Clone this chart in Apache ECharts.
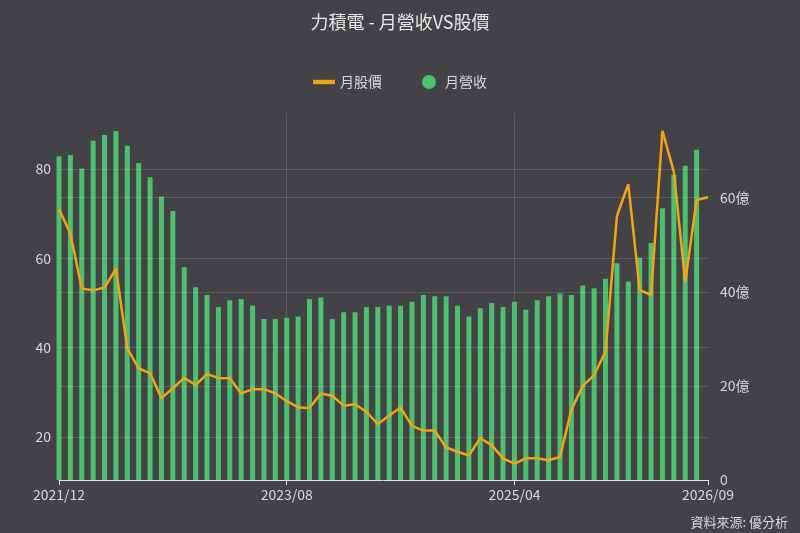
<!DOCTYPE html><html><head><meta charset="utf-8"><script src="https://cdn.jsdelivr.net/npm/echarts@6/dist/echarts.min.js"></script>
<style>html,body{margin:0;background:#434247}#c{width:800px;height:533px}</style></head><body><div id="c"></div><script>
const months=[];for(let y=2021,m=12;months.length<58;){months.push(y+'/'+String(m).padStart(2,'0'));m++;if(m>12){m=1;y++;}}
const revenue=[82.8,83.1,80.1,86.3,87.6,88.5,85.2,81.3,78.1,73.8,70.6,58.0,53.5,51.8,49.1,50.6,50.9,49.4,46.4,46.4,46.7,47.0,50.9,51.2,46.4,47.9,47.9,49.1,49.1,49.4,49.4,50.3,51.8,51.5,51.5,49.4,47.0,48.8,50.0,49.1,50.3,48.5,50.6,51.5,52.1,51.8,53.9,53.3,55.4,58.9,54.8,60.1,63.4,71.2,78.7,80.7,84.3,null];
const price=[57.6,52.4,40.7,40.3,40.9,44.9,28.0,23.7,22.7,17.4,19.5,21.7,20.2,22.5,21.7,21.6,18.4,19.3,19.3,18.4,16.8,15.4,15.3,18.4,17.9,15.8,16.1,14.5,11.9,13.7,15.4,11.5,10.5,10.5,6.9,6.0,5.2,8.9,7.4,4.6,3.5,4.6,4.6,4.2,4.9,14.9,20.0,22.3,27.3,56.1,62.9,40.4,39.3,74.2,65.5,42.1,59.5,60.1];
const leftTicks=[20,40,60,80];
const rightTicks=[0,20,40,60];
const txt='#d8d8d8',gl='rgba(255,255,255,0.13)',ff='"Noto Sans CJK TC","Noto Sans",sans-serif';
const ch=echarts.init(document.getElementById('c'));
ch.setOption({backgroundColor:'#434247',textStyle:{fontFamily:ff},
title:{text:'力積電 - 月營收VS股價',left:'center',top:8,textStyle:{color:'#e6e6e6',fontSize:18,fontWeight:'normal',fontFamily:ff}},
legend:{top:70,left:'center',itemGap:40,textStyle:{color:txt,fontSize:14},data:[{name:'月股價',icon:'path://M0,0h10v2H0z'},{name:'月營收',icon:'circle'}],itemWidth:22,itemHeight:14},
graphic:[{type:'text',right:12,bottom:4,style:{text:'資料來源: 優分析',fill:txt,font:'13px '+ff}}],
grid:{left:59,right:92,top:113,bottom:53},
xAxis:{type:'category',data:months,boundaryGap:false,axisLine:{lineStyle:{color:'#e0e0e0'}},
 axisTick:{interval:(i)=>i%20===0||i===57,lineStyle:{color:'#e0e0e0'}},
 axisLabel:{interval:(i)=>i%20===0||i===57,color:txt,fontSize:14,margin:8},splitLine:{show:true,interval:(i)=>i%20===0&&i>0,lineStyle:{color:gl}}},
yAxis:[{type:'value',min:10.4,max:92.5,axisLine:{show:false},axisTick:{show:false},splitLine:{show:false},
 axisLabel:{customValues:leftTicks,color:txt,fontSize:14}},
 {type:'value',min:0,max:78,position:'right',axisLine:{show:false},axisTick:{show:false},splitLine:{show:false},
 axisLabel:{customValues:rightTicks,color:txt,fontSize:14,formatter:v=>v===0?'0':v+'億',margin:12}}],
series:[{name:'月營收',type:'bar',yAxisIndex:0,data:revenue,barWidth:5,itemStyle:{color:'#4cc06c'},
 markLine:{silent:true,symbol:'none',label:{show:false},lineStyle:{color:gl,type:'solid',width:1},data:leftTicks.map(v=>({yAxis:v}))}},
 {name:'月股價',type:'line',yAxisIndex:1,data:price,showSymbol:false,symbol:'none',lineStyle:{color:'#f2a413',width:2.5},itemStyle:{color:'#f2a413'},z:3,
 markLine:{silent:true,symbol:'none',label:{show:false},lineStyle:{color:gl,type:'solid',width:1},data:[20,40,60].map(v=>({yAxis:v}))}}]});
</script></body></html>
